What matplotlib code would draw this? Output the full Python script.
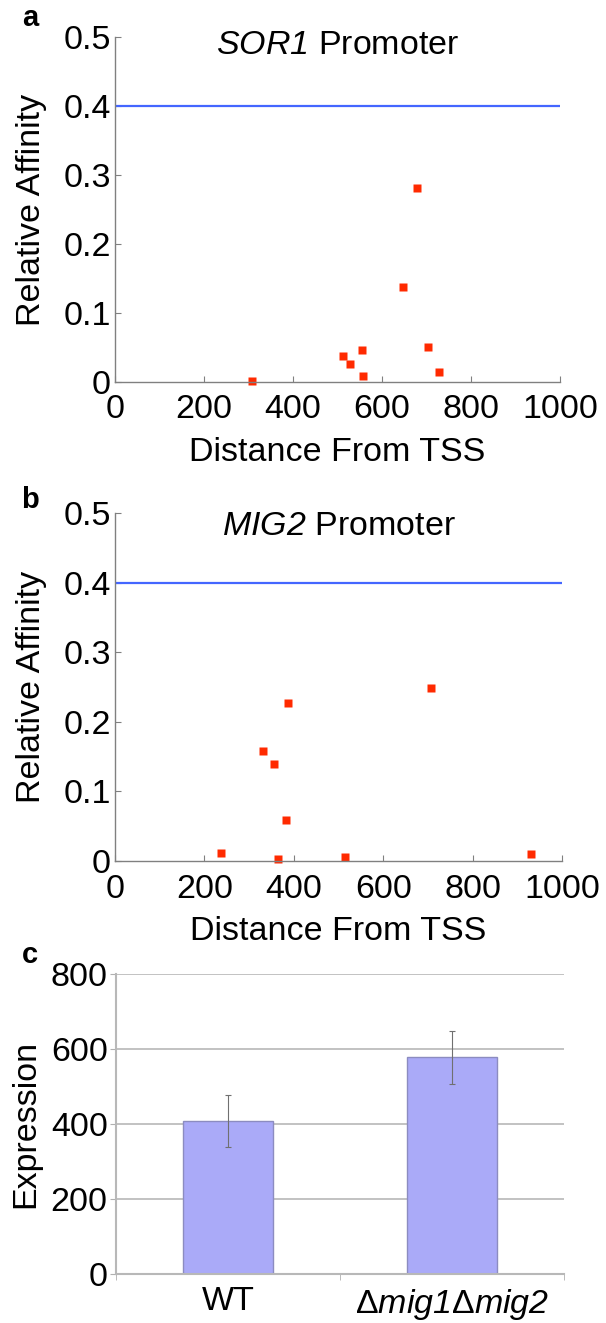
import matplotlib.pyplot as plt
import numpy as np

plt.rcParams['font.family'] = ['Liberation Sans', 'DejaVu Sans']
plt.rcParams['mathtext.fontset'] = 'custom'
plt.rcParams['mathtext.rm'] = 'Liberation Sans'
plt.rcParams['mathtext.it'] = 'Liberation Sans:italic'
plt.rcParams['mathtext.sf'] = 'Liberation Sans:italic'

# panel a: SOR1 promoter sites
sor1_dist = [307, 512, 527, 556, 558, 648, 678, 704, 727]
sor1_aff = [0.002, 0.037, 0.026, 0.046, 0.008, 0.137, 0.281, 0.051, 0.014]

# panel b: MIG2 promoter sites
mig2_dist = [237, 332, 356, 386, 383, 364, 515, 708, 930]
mig2_aff = [0.011, 0.158, 0.140, 0.227, 0.059, 0.003, 0.006, 0.249, 0.010]

threshold = 0.4

# panel c: expression
strains = ['WT', r'$\Delta\mathsf{mig1}\Delta\mathsf{mig2}$']
expr = [408, 578]
expr_err = [70, 71]

W, H = 606, 1323
fig = plt.figure(figsize=(W / 100, H / 100), dpi=100)

def px_axes(l, t, r, b):
    return fig.add_axes([l / W, 1 - b / H, (r - l) / W, (b - t) / H])

fs = 24.5

def scatter_panel(ax, x, y, title, ty):
    ax.axhline(threshold, color='#4466ff', lw=1.6)
    ax.plot(x, y, 's', color='#ff2a00', ms=5.5, mec='none', clip_on=False)
    ax.set_xlim(0, 1000)
    ax.set_ylim(0, 0.5)
    ax.set_xticks(np.arange(0, 1001, 200))
    ax.set_yticks(np.arange(0, 0.51, 0.1))
    ax.set_yticklabels(['0', '0.1', '0.2', '0.3', '0.4', '0.5'])
    for s in ['top', 'right']:
        ax.spines[s].set_visible(False)
    for s in ['left', 'bottom']:
        ax.spines[s].set_color('#808080')
        ax.spines[s].set_linewidth(1.0)
    ax.tick_params(direction='in', length=4, color='#808080', labelsize=fs)
    ax.tick_params(axis='x', pad=9)
    ax.tick_params(axis='y', pad=3)
    ax.set_xlabel('Distance From TSS', fontsize=fs, labelpad=8)
    ax.set_ylabel('Relative Affinity', fontsize=fs, labelpad=12)
    ax.text(0.5, ty, title, transform=ax.transAxes, ha='center', va='center', fontsize=fs)

ax_a = px_axes(115, 37, 560, 382)
scatter_panel(ax_a, sor1_dist, sor1_aff, r'$\mathsf{SOR1}$ Promoter', 0.975)
ax_b = px_axes(115, 513, 562, 861)
scatter_panel(ax_b, mig2_dist, mig2_aff, r'$\mathsf{MIG2}$ Promoter', 0.96)

ax_c = px_axes(116, 974, 564, 1274)
ax_c.bar([0, 1], expr, width=0.4, color='#aaaaf8', edgecolor='#8c8cc0', lw=1, zorder=2)
ax_c.errorbar([0, 1], expr, yerr=expr_err, fmt='none', ecolor='#707070', elinewidth=0.8,
              capsize=2, capthick=0.8, zorder=3)
ax_c.set_xlim(-0.5, 1.5)
ax_c.set_ylim(0, 800)
ax_c.set_yticks(np.arange(0, 801, 200))
ax_c.yaxis.grid(True, color='#b8b8b8', lw=1.2, zorder=0)
ax_c.set_axisbelow(True)
ax_c.set_xticks([0, 1])
ax_c.set_xticklabels(strains)
ax_c.set_xticks([-0.5, 0.5, 1.5], minor=True)
ax_c.tick_params(axis='x', which='major', length=0, labelsize=fs, pad=9)
ax_c.tick_params(axis='x', which='minor', length=4, color='#b0b0b0', direction='out')
ax_c.tick_params(axis='y', length=4, color='#b0b0b0', labelsize=fs, pad=2)
for s in ['top', 'right']:
    ax_c.spines[s].set_visible(False)
for s in ['left', 'bottom']:
    ax_c.spines[s].set_color('#b8b8b8')
    ax_c.spines[s].set_linewidth(1.5)
ax_c.set_ylabel('Expression', fontsize=fs, labelpad=7)

for lab, y in [('a', 18), ('b', 500), ('c', 955)]:
    fig.text(30 / W, 1 - y / H, lab, fontsize=21, fontweight='bold', ha='center', va='center')

fig.savefig('out.png', dpi=100)
